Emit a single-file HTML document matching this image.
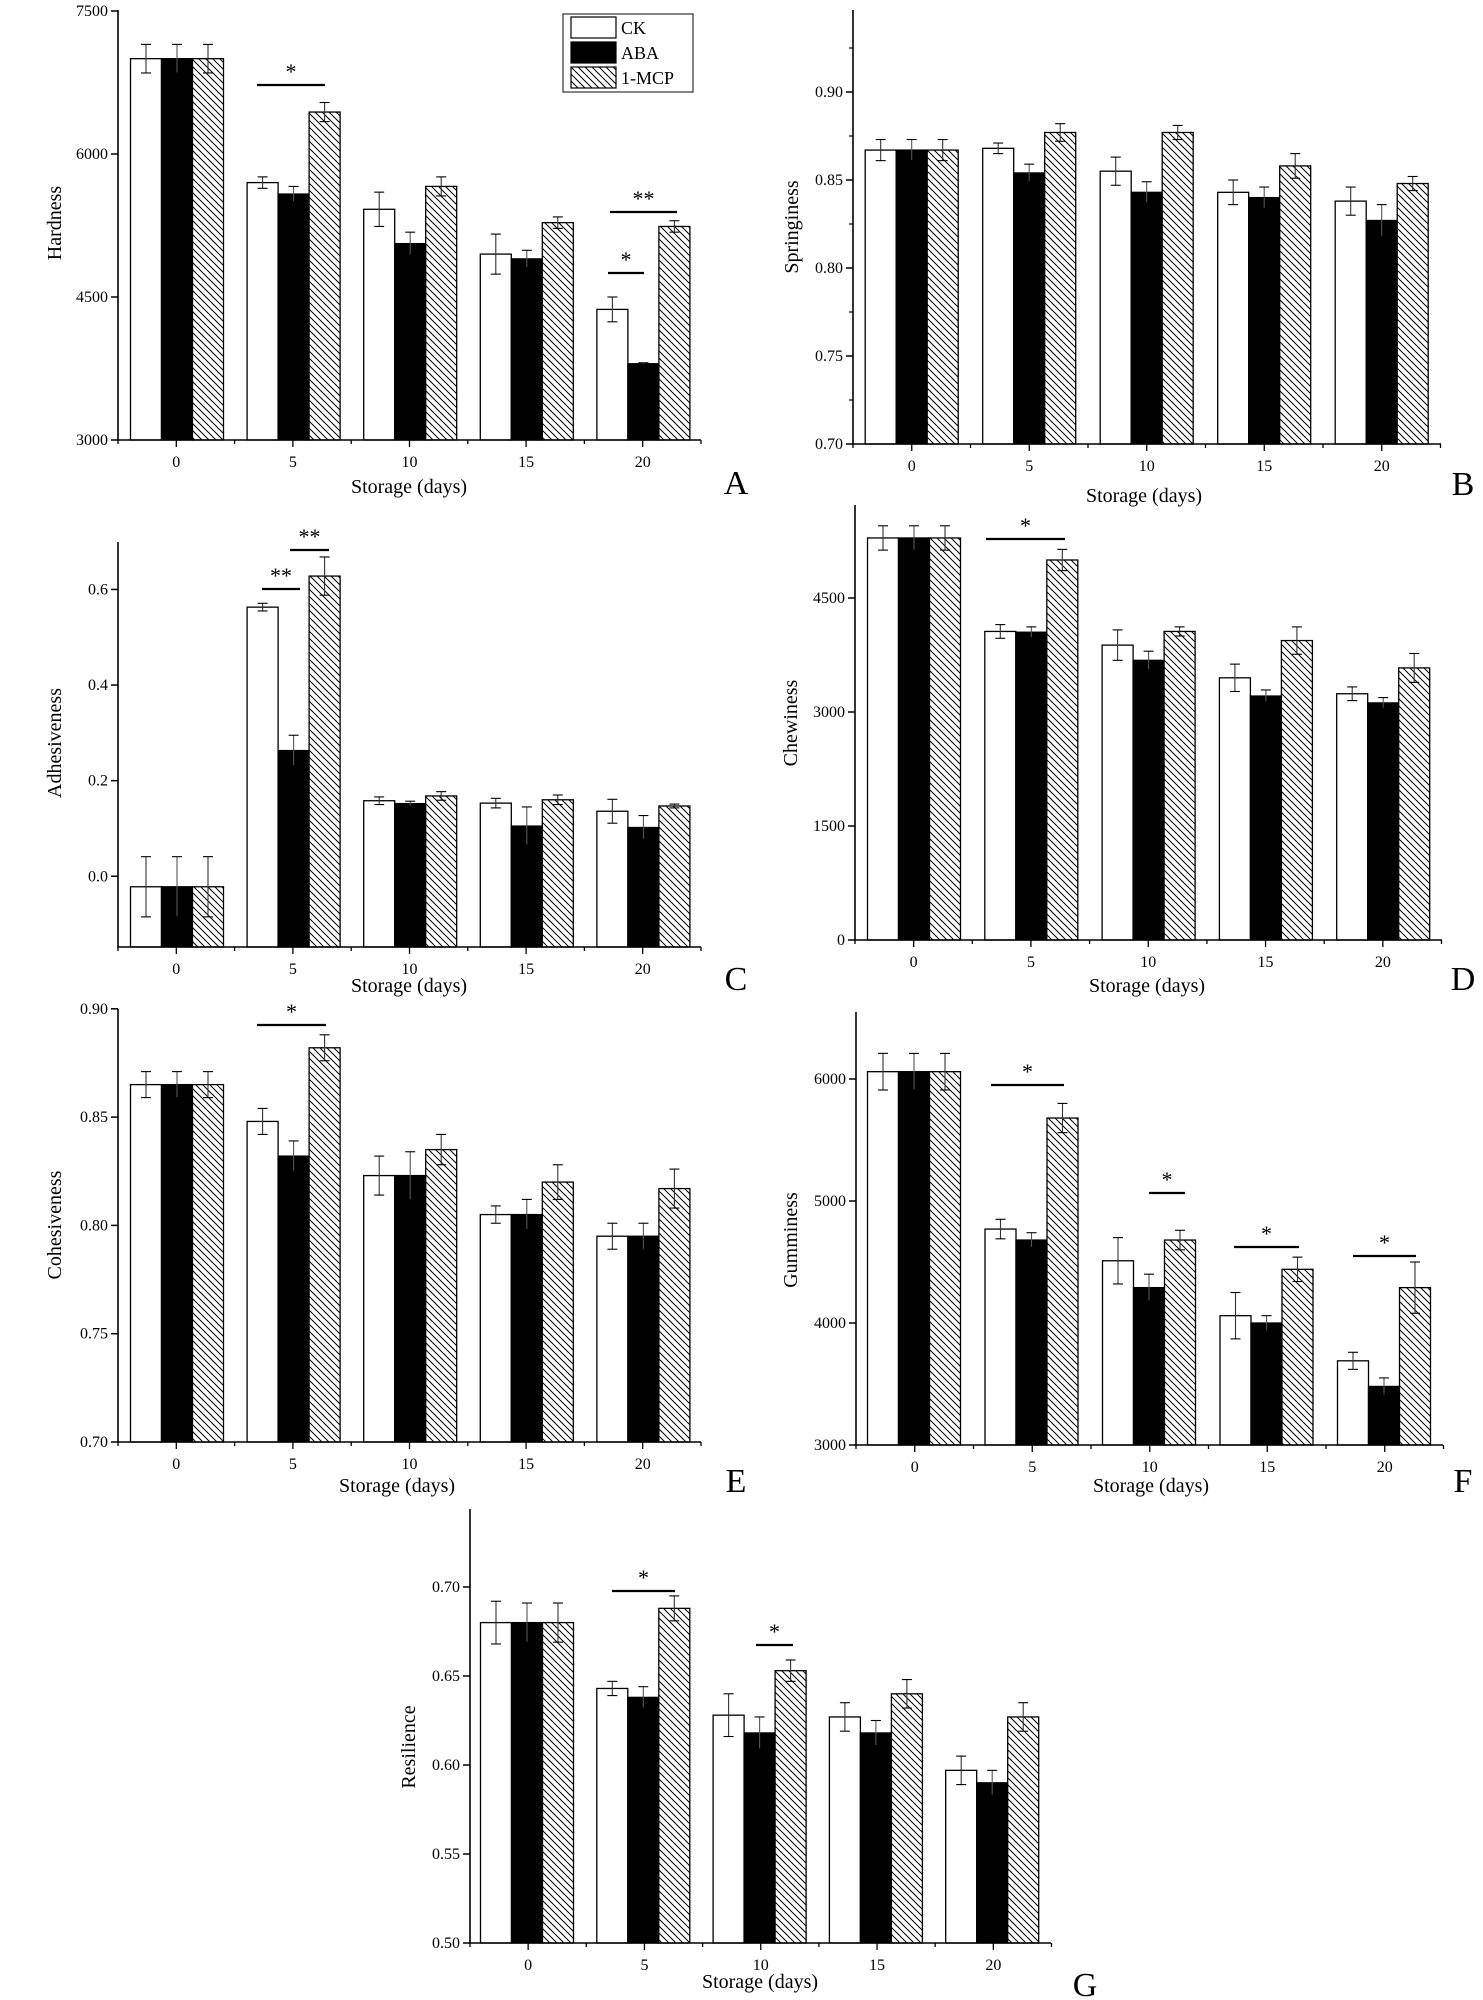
<!DOCTYPE html>
<html><head><meta charset="utf-8">
<style>
html,body{margin:0;padding:0;background:#fff;}
svg{display:block;font-family:"Liberation Serif",serif;}
</style></head>
<body>
<svg id="s" width="1483" height="2000" viewBox="0 0 1483 2000" xmlns="http://www.w3.org/2000/svg">
<defs>
<pattern id="h" width="7" height="7" patternUnits="userSpaceOnUse">
<rect width="7" height="7" fill="#fff"/>
<path d="M0,0 L7,7 M-1,6 L1,8 M6,-1 L8,1" stroke="#000" stroke-width="1"/>
</pattern>
</defs>
</svg>
<script>
var S=document.getElementById('s'),NS='http://www.w3.org/2000/svg';
function el(t,a,txt){var e=document.createElementNS(NS,t);for(var k in a)e.setAttribute(k,a[k]);if(txt!=null)e.textContent=txt;S.appendChild(e);return e;}
function line(x1,y1,x2,y2,w){el('line',{x1:x1,y1:y1,x2:x2,y2:y2,stroke:'#000','stroke-width':w||1.5});}
function txt(x,y,s,size,anchor,extra){var a={x:x,y:y,'font-size':size,'text-anchor':anchor||'middle'};for(var k in extra)a[k]=extra[k];el('text',a,s);}
function panel(c){
  var k=c.k, yAt=function(v){return c.yb-(v-c.vmin)*k;};
  var sp=c.sp, bw=31;
  // bars
  for(var g=0;g<5;g++){
    var cx=c.c0+g*sp;
    for(var b=0;b<3;b++){
      var v=c.d[g][b][0],e=c.d[g][b][1];
      var x=cx-46.5+b*bw, y=yAt(v);
      el('rect',{x:x,y:y,width:bw,height:c.yb-y,fill:b==0?'#fff':(b==1?'#000':'url(#h)'),stroke:'#000','stroke-width':1.3});
      var ex=x+bw/2, y1=yAt(v+e), y2=yAt(v-e);
      el('line',{x1:ex,y1:y1,x2:ex,y2:y2,stroke:b==1?'#555':'#333','stroke-width':1.1});
      line(ex-5,y1,ex+5,y1,1.1);line(ex-5,y2,ex+5,y2,1.1);
    }
  }
  // axes
  line(c.x0,c.yt,c.x0,c.yb+0.75,1.6);
  line(c.x0-0.75,c.yb,c.xe,c.yb,1.6);
  // y ticks
  c.ticks.forEach(function(t){var y=yAt(t[0]);line(c.x0-7,y,c.x0,y,1.5);txt(c.x0-10,y+5,t[1],16,'end');});
  (c.minor||[]).forEach(function(v){var y=yAt(v);line(c.x0-4,y,c.x0,y,1.2);});
  // x ticks
  for(var i=0;i<=10;i++){var x=c.x0+i*sp/2;var major=i%2==1;line(x,c.yb,x,c.yb+(major?7:4),1.3);
    if(major)txt(x,c.yb+27,String((i-1)/2*5),16);}
  txt(c.xl,c.yl,'Storage (days)',20);
  txt(c.lx,c.ly,c.letter,34,'middle');
  el('text',{x:0,y:0,'font-size':20,'text-anchor':'middle',transform:'translate('+c.ylx+','+c.yly+') rotate(-90)'},c.ylab);
  (c.sig||[]).forEach(function(s){line(s[0],s[2],s[1],s[2],2.2);txt((s[0]+s[1])/2,s[2]-6,s[3],22);});
}
// A
panel({x0:118,xe:701,yb:440,yt:10,vmin:3000,k:143/1500,c0:177,sp:116.6,
 ticks:[[3000,'3000'],[4500,'4500'],[6000,'6000'],[7500,'7500']],
 d:[[[7000,150],[7000,150],[7000,150]],[[5700,60],[5580,80],[6440,100]],[[5420,180],[5060,120],[5660,100]],[[4950,210],[4900,90],[5280,60]],[[4370,130],[3800,10],[5240,60]]],
 xl:409,yl:493,lx:736,ly:494,letter:'A',ylab:'Hardness',ylx:61,yly:223,
 sig:[[257,325,85,'*'],[610,677,212,'**'],[608,644,273,'*']]});
// B
panel({x0:853,xe:1441,yb:444,yt:10,vmin:0.70,k:88/0.05,c0:911.7,sp:117.5,
 ticks:[[0.70,'0.70'],[0.75,'0.75'],[0.80,'0.80'],[0.85,'0.85'],[0.90,'0.90']],minor:[0.725,0.775,0.825,0.875,0.925],
 d:[[[0.867,0.006],[0.867,0.006],[0.867,0.006]],[[0.868,0.003],[0.854,0.005],[0.877,0.005]],[[0.855,0.008],[0.843,0.006],[0.877,0.004]],[[0.843,0.007],[0.840,0.006],[0.858,0.007]],[[0.838,0.008],[0.827,0.009],[0.848,0.004]]],
 xl:1144,yl:502,lx:1463,ly:495,letter:'B',ylab:'Springiness',ylx:798,yly:227});
// C
panel({x0:118,xe:701,yb:947,yt:542,vmin:-0.148,k:95.6/0.2,c0:177,sp:116.6,
 ticks:[[0,'0.0'],[0.2,'0.2'],[0.4,'0.4'],[0.6,'0.6']],
 d:[[[-0.022,0.063],[-0.022,0.063],[-0.022,0.063]],[[0.563,0.008],[0.263,0.032],[0.628,0.04]],[[0.158,0.008],[0.152,0.005],[0.168,0.009]],[[0.153,0.01],[0.105,0.04],[0.160,0.01]],[[0.136,0.025],[0.102,0.025],[0.147,0.004]]],
 xl:409,yl:992,lx:736,ly:990,letter:'C',ylab:'Adhesiveness',ylx:61,yly:743,
 sig:[[262,300,589,'**'],[290,329,550,'**']]});
// D
panel({x0:855,xe:1442,yb:940,yt:505,vmin:0,k:114/1500,c0:914,sp:117.3,
 ticks:[[0,'0'],[1500,'1500'],[3000,'3000'],[4500,'4500']],
 d:[[[5290,160],[5290,160],[5290,160]],[[4060,90],[4050,70],[5000,140]],[[3880,200],[3680,120],[4060,60]],[[3450,180],[3210,80],[3940,180]],[[3240,90],[3120,70],[3580,190]]],
 xl:1147,yl:992,lx:1463,ly:990,letter:'D',ylab:'Chewiness',ylx:797,yly:723,
 sig:[[986,1065,539,'*']]});
// E
panel({x0:118,xe:701,yb:1442,yt:1009,vmin:0.70,k:108.3/0.05,c0:177,sp:116.6,
 ticks:[[0.70,'0.70'],[0.75,'0.75'],[0.80,'0.80'],[0.85,'0.85'],[0.90,'0.90']],
 d:[[[0.865,0.006],[0.865,0.006],[0.865,0.006]],[[0.848,0.006],[0.832,0.007],[0.882,0.006]],[[0.823,0.009],[0.823,0.011],[0.835,0.007]],[[0.805,0.004],[0.805,0.007],[0.820,0.008]],[[0.795,0.006],[0.795,0.006],[0.817,0.009]]],
 xl:397,yl:1492,lx:736,ly:1492,letter:'E',ylab:'Cohesiveness',ylx:61,yly:1225,
 sig:[[257,326,1025,'*']]});
// F
panel({x0:856,xe:1443,yb:1445,yt:1012,vmin:3000,k:122/1000,c0:914,sp:117.5,
 ticks:[[3000,'3000'],[4000,'4000'],[5000,'5000'],[6000,'6000']],
 d:[[[6060,150],[6060,150],[6060,150]],[[4770,80],[4680,60],[5680,120]],[[4510,190],[4290,110],[4680,80]],[[4060,190],[4000,60],[4440,100]],[[3690,70],[3480,70],[4290,210]]],
 xl:1151,yl:1492,lx:1463,ly:1492,letter:'F',ylab:'Gumminess',ylx:797,yly:1240,
 sig:[[991,1064,1085,'*'],[1149,1185,1193,'*'],[1234,1299,1247,'*'],[1353,1416,1256,'*']]});
// G
panel({x0:470,xe:1051,yb:1943,yt:1509,vmin:0.50,k:89/0.05,c0:527,sp:116.3,
 ticks:[[0.50,'0.50'],[0.55,'0.55'],[0.60,'0.60'],[0.65,'0.65'],[0.70,'0.70']],
 d:[[[0.680,0.012],[0.680,0.011],[0.680,0.011]],[[0.643,0.004],[0.638,0.006],[0.688,0.007]],[[0.628,0.012],[0.618,0.009],[0.653,0.006]],[[0.627,0.008],[0.618,0.007],[0.640,0.008]],[[0.597,0.008],[0.590,0.007],[0.627,0.008]]],
 xl:760,yl:1988,lx:1085,ly:1996,letter:'G',ylab:'Resilience',ylx:415,yly:1747,
 sig:[[612,675,1591,'*'],[756,793,1645,'*']]});
// legend
el('rect',{x:563,y:14,width:130,height:78,fill:'#fff',stroke:'#333','stroke-width':1.2});
[['#fff','CK'],['#000','ABA'],['url(#h)','1-MCP']].forEach(function(r,i){
  el('rect',{x:571,y:17+i*25,width:45,height:21,fill:r[0],stroke:'#000','stroke-width':1.2});
  txt(621,34+i*25,r[1],18,'start');
});
</script>
</body></html>
